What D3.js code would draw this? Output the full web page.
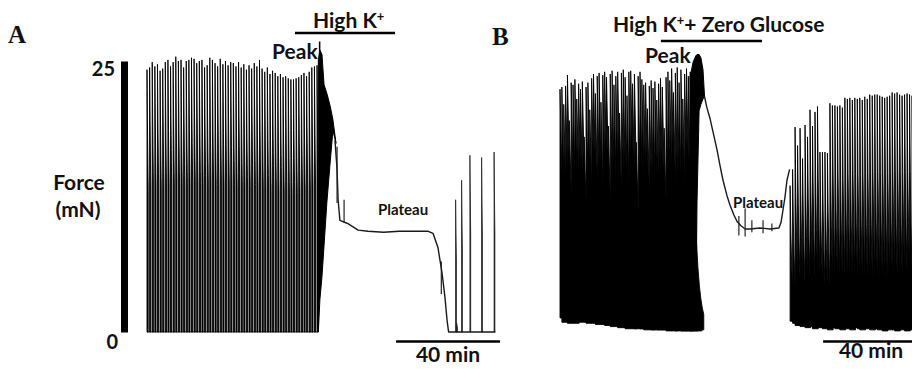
<!DOCTYPE html>
<html><head><meta charset="utf-8">
<script src="https://cdn.jsdelivr.net/npm/d3@7"></script>
<style>
html,body{margin:0;padding:0;background:#fff;}
svg{display:block;}
.lbl{font-family:Lato,"Open Sans",sans-serif;font-weight:700;fill:#111;}
.panel{font-family:"Liberation Serif","Times New Roman",serif;font-weight:700;fill:#111;}
</style></head><body>
<svg id="fig" width="912" height="369"></svg>
<script>
// ---------- Panel A: high K+ (time in min, force in mN) ----------
const twitchPeaksA = [24.2,24.4,24.9,24.5,24.7,24.1,24.3,24.9,25.1,24.5,24.9,25.4,25.0,25.1,24.4,25.0,25.1,25.3,25.2,24.8,
  25.0,25.1,24.4,24.6,25.3,25.1,24.8,24.5,25.2,24.7,25.0,24.6,24.9,24.8,24.5,24.9,24.4,24.7,24.2,24.6,
  24.3,24.8,24.5,25.1,24.3,24.0,24.4,23.8,24.1,23.9,23.6,23.8,23.5,23.6,23.4,23.3,23.3,23.4,23.5,23.7,
  23.9,23.6,24.0,24.4,24.5,24.6];
const twitchSpanA = [0, 65.4];
const kTimesA = [65.9, 66.5, 67.3, 68.1, 69.2, 70.4, 71.5, 72.7];
const kUpperA = [25.1, 26.0, 25.6, 22.8, 22.0, 20.9, 19.6, 17.4];
const kLowerA = [0.0, 3.0, 5.1, 8.0, 12.0, 15.5, 18.6, 17.4];
const needleTimeA = 66.4, needleForceA = 26.8, needleBaseA = 5.0;
const plateauTimesA = [72.3, 73.1, 73.5, 74.2, 76.2, 77.3, 81.2, 85, 91, 97, 103, 108, 110, 111.9, 113.5, 114.6, 115.4, 116.0, 134];
const plateauForceA = [17.7, 15.0, 12.2, 10.3, 10.1, 10.0, 9.4, 9.3, 9.2, 9.3, 9.3, 9.3, 9.1, 7.8, 5.4, 3.2, 1.1, 0.0, 0.0];
const transientTimesA = [73.1, 75.8, 113.2];
const transientLowA = [11.9, 10.1, 3.5];
const transientHighA = [17.1, 12.2, 6.5];
const recoveryTimesA = [118.7, 119.1, 121.0, 124.2, 128.7, 133.5];
const recoveryPeaksA = [12.2, 0.8, 14.0, 16.3, 16.1, 16.6];
const drugBarA = [56.9, 95.4];
const scaleBarStartA = 95.8;

// ---------- Panel B: high K+ + zero glucose ----------
const twitchPeaksB1 = [22.4,22.6,21.0,22.7,23.7,19.5,23.0,22.8,23.3,21.5,22.9,22.4,23.1,18.0,22.6,23.0,20.5,23.4,23.8,22.0,
  23.6,23.9,21.2,23.7,24.0,23.5,19.0,23.8,24.1,22.8,23.6,24.0,20.2,23.9,24.2,23.5,21.8,24.0,24.1,22.9,
  23.8,17.5,23.6,24.0,23.3,22.8,23.0,20.6,22.7,23.2,22.5,23.1,21.4,22.9,23.4,22.6,18.8,23.5,24.0,23.2,
  24.3,22.1,23.9,24.4,23.0,24.2,21.5,23.8,24.3,23.6,24.0,23.5];
const twitchTroughsB1 = [1.3,0.9,1.5,1.1,0.8,1.6,1.2,1.0,1.9,1.4,0.9,1.2,1.7,1.0,0.8,1.3,1.5,0.9,1.1,0.7,
  1.2,1.4,0.8,0.9,0.6,1.0,0.7,0.5,0.8,0.6,0.9,0.4,0.6,0.8,0.5,0.3,0.6,0.4,0.7,0.5,
  0.3,0.4,0.6,0.3,0.5,0.2,0.4,0.3,0.5,0.2,0.3,0.4,0.2,0.3,0.5,0.2,0.3,0.1,0.4,0.2,
  0.3,0.2,0.1,0.3,0.2,0.1,0.2,0.3,0.1,0.2,0.1,0.2];
const twitchSpanB1 = [0, 50.8];
const peakTimesB = [50.0, 51.2, 52.3, 52.7, 53.5, 54.2, 55.0, 55.6];
const peakUpperB = [23.5, 24.9, 25.5, 25.6, 25.6, 25.3, 24.2, 21.7];
const peakLowerB = [1.8, 2.3, 2.3, 12.0, 20.4, 21.0, 21.5, 21.7];
const plateauTimesB = [55.6, 56.5, 57.7, 58.8, 60.4, 61.5, 62.7, 64.2, 65.4, 66.9, 68.1, 69.6, 71.2, 73.1, 76.9, 80.8, 84.2, 85.0, 85.8, 86.5, 87.3, 88.3];
const plateauForceB = [21.7, 20.7, 19.7, 18.5, 16.8, 15.4, 14.0, 12.6, 11.7, 10.8, 10.2, 9.8, 9.5, 9.5, 9.6, 9.5, 9.6, 10.1, 11.3, 12.4, 14.0, 15.0];
const transientTimesB = [68.8, 71.2, 73.8, 78.1, 81.5];
const transientLowB = [8.9, 8.8, 9.2, 9.1, 9.3];
const transientHighB = [10.7, 11.4, 10.3, 10.3, 10.0];
const twitchPeaksB2 = [13.5,15.0,18.9,17.2,18.8,16.0,19.1,18.0,20.5,19.0,20.3,20.8,16.6,16.6,16.6,16.5,21.1,20.9,20.9,20.8,
  20.9,20.7,21.6,21.5,21.6,21.4,21.6,21.5,21.6,21.4,21.7,21.5,21.9,21.8,21.9,21.9,21.8,21.7,21.6,21.7,
  21.8,22.1,22.0,22.1,21.9,21.8,21.9,22.0,21.9,21.8];
const twitchTroughsB2 = [1.0,0.8,0.6,0.9,0.5,0.7,0.4,0.8,0.5,0.3,0.6,0.4,0.7,0.3,0.5,0.2,0.4,0.6,0.3,0.5,
  0.2,0.4,0.3,0.6,0.2,0.4,0.5,0.3,0.2,0.4,0.3,0.5,0.2,0.3,0.4,0.2,0.3,0.1,0.3,0.2,
  0.4,0.2,0.1,0.3,0.2,0.3,0.1,0.2,0.3,0.2];
const twitchSpanB2 = [88.5, 135.4];
const drugBarB = [38.8, 77.7];
const scaleBarStartB = 101.2;

const forceTicks = [0, 25];
const scaleBarMinutes = 40;

// ---------- scales ----------
const svg = d3.select("#fig");
const xA = d3.scaleLinear().domain([0, 135]).range([147, 498]);
const xB = d3.scaleLinear().domain([0, 135]).range([560, 911]);
const yF = d3.scaleLinear().domain([0, 25]).range([332, 61]);

// one twitch: fast rise, relaxation back to the trough (rate sets its curvature)
function twitch(x, t, peak, trough, w, rate) {
  const pts = [[x(t), yF(trough)], [x(t), yF(peak)]];
  for (let k = 1; k <= 8; k++) {
    pts.push([x(t + w * k / 8), yF(trough + (peak - trough) * Math.exp(-rate * k / 8))]);
  }
  pts.push([x(t + w), yF(trough)]);
  return d3.line()(pts) + "Z";
}

function drawTwitches(g, x, peaks, troughs, span, w, rate, sw) {
  const tIdx = d3.scaleLinear().domain([0, peaks.length - 1]).range(span);
  g.append("g").selectAll("path").data(peaks).join("path")
    .attr("d", (p, i) => twitch(x, tIdx(i), p, troughs ? troughs[i] : 0, w, rate))
    .attr("fill", "#000").attr("stroke", "#000").attr("stroke-width", sw)
    .attr("stroke-linejoin", "round");
}

function drawEnvelope(g, x, times, upper, lower) {
  const area = d3.area().x((d, i) => x(times[i])).y0((d, i) => yF(lower[i])).y1(d => yF(d));
  g.append("path").attr("d", area(upper)).attr("fill", "#000").attr("stroke", "#000").attr("stroke-width", 1);
}

function drawLine(g, x, times, vals, width) {
  const line = d3.line().x((d, i) => x(times[i])).y(d => yF(d));
  g.append("path").attr("d", line(vals)).attr("fill", "none").attr("stroke", "#1a1a1a")
    .attr("stroke-width", width).attr("stroke-linejoin", "round");
}

function drawTicks(g, x, times, lo, hi) {
  g.append("g").selectAll("line").data(times).join("line")
    .attr("x1", d => x(d)).attr("x2", d => x(d))
    .attr("y1", (d, i) => yF(lo[i])).attr("y2", (d, i) => yF(hi[i]))
    .attr("stroke", "#222").attr("stroke-width", 1.2);
}

// ---------- panel A trace ----------
const gA = svg.append("g");
gA.append("line").attr("x1", xA(twitchSpanA[0])).attr("x2", xA(twitchSpanA[1] + 0.5))
  .attr("y1", yF(0)).attr("y2", yF(0)).attr("stroke", "#333").attr("stroke-width", 1);
drawTwitches(gA, xA, twitchPeaksA, null, twitchSpanA, 0.45, 0.6, 0.9);
drawEnvelope(gA, xA, kTimesA, kUpperA, kLowerA);
gA.append("line").attr("x1", xA(needleTimeA)).attr("x2", xA(needleTimeA))
  .attr("y1", yF(needleBaseA)).attr("y2", yF(needleForceA)).attr("stroke", "#000").attr("stroke-width", 1.5);
drawLine(gA, xA, plateauTimesA, plateauForceA, 1.4);
drawTicks(gA, xA, transientTimesA, transientLowA, transientHighA);
gA.append("g").selectAll("path").data(recoveryPeaksA).join("path")
  .attr("d", (p, i) => twitch(xA, recoveryTimesA[i], p, 0, 0.3, 0.6))
  .attr("fill", "#000").attr("stroke", "#222").attr("stroke-width", 0.8);

// force scale bar with its two tick labels
const axis = d3.axisLeft(yF).tickValues(forceTicks).tickSize(0).tickSizeOuter(0).tickPadding(9);
const gAx = svg.append("g").attr("transform", "translate(124,0)").call(axis);
gAx.select(".domain").attr("stroke", "#000").attr("stroke-width", 7);
gAx.selectAll("text").attr("class", "lbl").attr("font-size", 20).attr("fill", "#111")
  .attr("font-family", "Lato, sans-serif").attr("font-weight", 700)
  .attr("dy", d => d === 0 ? "0.82em" : "0.72em")
  .attr("x", d => d === 0 ? -6 : -9);

// ---------- panel B trace ----------
const gB = svg.append("g");
drawTwitches(gB, xB, twitchPeaksB1, twitchTroughsB1, twitchSpanB1, 4.5, 2.8, 0.9);
drawEnvelope(gB, xB, peakTimesB, peakUpperB, peakLowerB);
drawLine(gB, xB, plateauTimesB, plateauForceB, 1.4);
drawTicks(gB, xB, transientTimesB, transientLowB, transientHighB);
drawTwitches(gB, xB, twitchPeaksB2, twitchTroughsB2, twitchSpanB2, 2.2, 3.2, 0.9);

// ---------- drug bars and time scale bars ----------
function hbar(x, t0, t1, y, w) {
  svg.append("line").attr("x1", x(t0)).attr("x2", x(t1)).attr("y1", y).attr("y2", y)
    .attr("stroke", "#000").attr("stroke-width", w);
}
hbar(xA, drugBarA[0], drugBarA[1], 33, 2.5);
hbar(xB, drugBarB[0], drugBarB[1], 41, 2.5);
hbar(xA, scaleBarStartA, scaleBarStartA + scaleBarMinutes, 341.5, 2.5);
hbar(xB, scaleBarStartB, scaleBarStartB + scaleBarMinutes, 341.5, 2.5);

// ---------- text ----------
function label(x, y, txt, size, anchor, cls) {
  return svg.append("text").attr("class", cls || "lbl").attr("x", x).attr("y", y)
    .attr("font-size", size).attr("text-anchor", anchor || "start").text(txt);
}
label(8, 43, "A", 25, "start", "panel");
label(492, 45, "B", 25, "start", "panel");

const tA = label(313, 28, "High K", 21);
tA.append("tspan").attr("dy", -7).attr("font-size", 13).text("+");
const tB = label(613, 32, "High K", 21);
tB.append("tspan").attr("dy", -7).attr("font-size", 13).text("+");
tB.append("tspan").attr("dy", 7).text("+ Zero Glucose");

label(79, 190, "Force", 21, "middle");
label(78, 217, "(mN)", 21, "middle");
label(272, 59, "Peak", 21);
label(645, 63, "Peak", 21);
label(378, 215, "Plateau", 15);
label(733, 208, "Plateau", 15);
label(448, 362, "40 min", 21, "middle");
label(871, 358, "40 min", 21, "middle");
</script></body></html>
